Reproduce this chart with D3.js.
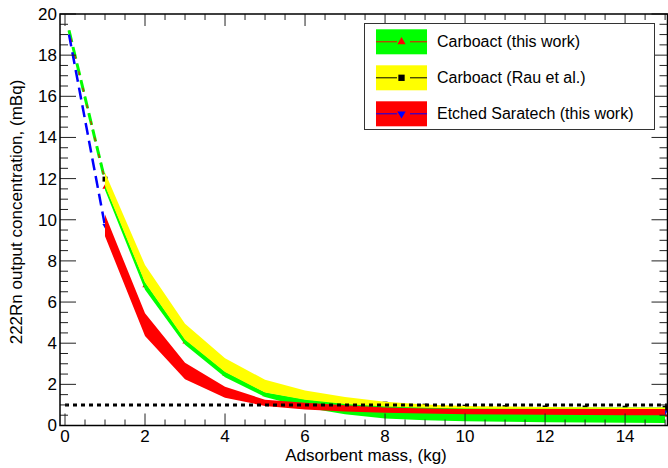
<!DOCTYPE html>
<html>
<head>
<meta charset="utf-8">
<script src="https://cdn.jsdelivr.net/npm/d3@7"></script>
<style>
  body { margin: 0; background: #fff; }
  svg { display: block; font-family: "Liberation Sans", Arial, sans-serif; }
</style>
</head>
<body>
<div id="chart"></div>
<script>
// adsorbent mass (kg) where the bands are defined
const mass = [1, 2, 3, 4, 5, 6, 7, 8, 9, 10, 11, 12, 13, 14, 15];
// Carboact (this work), green band
const carboLow = [11.45, 6.6, 3.92, 2.35, 1.38, 0.88, 0.55, 0.34, 0.26, 0.21, 0.18, 0.16, 0.14, 0.13, 0.12];
const carboHigh = [11.7, 6.98, 4.2, 2.62, 1.62, 1.28, 1.08, 0.97, 0.92, 0.89, 0.88, 0.87, 0.87, 0.87, 0.87];
// Carboact (Rau et al.), yellow band
const rauLow = [11.65, 6.95, 4.17, 2.6, 1.6, 1.25, 1.04, 0.92, 0.86, 0.83, 0.82, 0.81, 0.81, 0.8, 0.8];
const rauHigh = [12.3, 7.8, 4.95, 3.27, 2.22, 1.7, 1.38, 1.16, 1.02, 0.95, 0.92, 0.9, 0.89, 0.88, 0.88];
// Etched Saratech (this work), red band
const sarLow = [9.2, 4.35, 2.25, 1.35, 0.95, 0.78, 0.68, 0.62, 0.58, 0.55, 0.53, 0.52, 0.51, 0.5, 0.5];
const sarHigh = [10.25, 5.45, 3.05, 1.88, 1.25, 1.1, 0.98, 0.88, 0.83, 0.8, 0.8, 0.8, 0.8, 0.8, 0.8];
// dashed extrapolation towards zero mass
const extrapMass = [0.1, 1];
const carboExtrap = [19.2, 11.9];
const rauExtrap = [19.2, 12.0];
const sarExtrap = [19.0, 9.7];
// required output limit
const limit = 1.0;

const xMajor = [0, 2, 4, 6, 8, 10, 12, 14];
const yMajor = [0, 2, 4, 6, 8, 10, 12, 14, 16, 18, 20];

const legendLabels = ['Carboact (this work)', 'Carboact (Rau et al.)', 'Etched Saratech (this work)'];
const legendFills = ['#00ff00', '#ffff00', '#ff0000'];
const legendLines = ['#ff0000', '#000000', '#0000ff'];
const legendMarkers = ['triangle', 'square', 'down'];

const width = 668, height = 468;
const x = d3.scaleLinear().domain([-0.125, 15.06]).range([60, 667.5]);
const y = d3.scaleLinear().domain([0, 20]).range([425.5, 14]);

const svg = d3.select('#chart').append('svg')
  .attr('width', width)
  .attr('height', height);

// dashed extrapolation lines
const extrapLine = vals => d3.line()
  .x((d, i) => x(extrapMass[i]))
  .y(d => y(d))(vals);

svg.append('path').attr('d', extrapLine(rauExtrap))
  .attr('fill', 'none').attr('stroke', '#000').attr('stroke-width', 1)
  .attr('stroke-dasharray', '12,5');
svg.append('path').attr('d', extrapLine(carboExtrap))
  .attr('fill', 'none').attr('stroke', '#00ff00').attr('stroke-width', 3)
  .attr('stroke-dasharray', '12,5');
svg.append('path').attr('d', extrapLine(carboExtrap))
  .attr('fill', 'none').attr('stroke', '#ff0000').attr('stroke-width', 1)
  .attr('stroke-dasharray', '4,13').attr('stroke-dashoffset', -8);
svg.append('path').attr('d', extrapLine(sarExtrap))
  .attr('fill', 'none').attr('stroke', '#0000ff').attr('stroke-width', 2.5)
  .attr('stroke-dasharray', '12,6');

// markers at the band centres (mostly hidden by the bands)
const sym = {
  triangle: d3.symbol().type(d3.symbolTriangle).size(12),
  square: d3.symbol().type(d3.symbolSquare).size(25),
  down: d3.symbol().type(d3.symbolTriangle).size(12)
};
function markers(lo, hi, shape, color) {
  svg.append('g').selectAll('path')
    .data(mass)
    .join('path')
    .attr('d', sym[shape])
    .attr('fill', color)
    .attr('transform', (d, i) => `translate(${x(d)},${y((lo[i] + hi[i]) / 2)})` + (shape === 'down' ? ' rotate(180)' : ''));
}
markers(carboLow, carboHigh, 'triangle', '#ff0000');
markers(sarLow, sarHigh, 'down', '#0000ff');
markers(rauLow, rauHigh, 'square', '#000');

// the error bands
const band = (lo, hi) => d3.area()
  .x(d => x(d))
  .y0((d, i) => y(lo[i]))
  .y1((d, i) => y(hi[i]))(mass);

svg.append('path').attr('d', band(carboLow, carboHigh)).attr('fill', '#00ff00');
svg.append('path').attr('d', band(rauLow, rauHigh)).attr('fill', '#ffff00');
svg.append('path').attr('d', band(sarLow, sarHigh)).attr('fill', '#ff0000');

// dotted limit line
svg.append('line')
  .attr('x1', x(0)).attr('x2', 667.5)
  .attr('y1', y(limit)).attr('y2', y(limit))
  .attr('stroke', '#000').attr('stroke-width', 3)
  .attr('stroke-dasharray', '4,4');

// frame and ticks, ROOT style (ticks inside)
const x0 = x.range()[0], x1 = x.range()[1];
const y0 = y.range()[0], y1 = y.range()[1];
const xMinor = d3.range(0, 15.01, 0.5).filter(v => v % 2 !== 0);
const yMinor = d3.range(0, 20.01, 0.5).filter(v => v % 2 !== 0);

const ticks = svg.append('g').attr('stroke', '#222').attr('stroke-width', 1);
xMajor.forEach(v => {
  ticks.append('line').attr('x1', x(v)).attr('x2', x(v)).attr('y1', y0).attr('y2', y0 - 12);
  ticks.append('line').attr('x1', x(v)).attr('x2', x(v)).attr('y1', y1).attr('y2', y1 + 12);
});
xMinor.forEach(v => {
  ticks.append('line').attr('x1', x(v)).attr('x2', x(v)).attr('y1', y0).attr('y2', y0 - 6);
  ticks.append('line').attr('x1', x(v)).attr('x2', x(v)).attr('y1', y1).attr('y2', y1 + 6);
});
yMajor.forEach(v => {
  ticks.append('line').attr('x1', x0).attr('x2', x0 + 16).attr('y1', y(v)).attr('y2', y(v));
  ticks.append('line').attr('x1', x1).attr('x2', x1 - 16).attr('y1', y(v)).attr('y2', y(v));
});
yMinor.forEach(v => {
  ticks.append('line').attr('x1', x0).attr('x2', x0 + 8).attr('y1', y(v)).attr('y2', y(v));
  ticks.append('line').attr('x1', x1).attr('x2', x1 - 8).attr('y1', y(v)).attr('y2', y(v));
});

svg.append('rect')
  .attr('x', x0).attr('y', y1)
  .attr('width', x1 - x0).attr('height', y0 - y1)
  .attr('fill', 'none').attr('stroke', '#000').attr('stroke-width', 1.5);

// tick labels
svg.append('g').selectAll('text')
  .data(xMajor)
  .join('text')
  .attr('x', d => x(d))
  .attr('y', 442)
  .attr('text-anchor', 'middle')
  .attr('font-size', 17)
  .text(d => d);

svg.append('g').selectAll('text')
  .data(yMajor)
  .join('text')
  .attr('x', 57)
  .attr('y', d => y(d))
  .attr('dy', '0.35em')
  .attr('text-anchor', 'end')
  .attr('font-size', 17)
  .text(d => d);

// axis titles
svg.append('text')
  .attr('x', 366).attr('y', 461)
  .attr('text-anchor', 'middle')
  .attr('font-size', 17)
  .text('Adsorbent mass, (kg)');

svg.append('text')
  .attr('transform', 'translate(22, 212) rotate(-90)')
  .attr('text-anchor', 'middle')
  .attr('font-size', 17)
  .text('222Rn output concentration, (mBq)');

// legend
const legend = svg.append('g');
legend.append('rect')
  .attr('x', 364.5).attr('y', 23.5)
  .attr('width', 290).attr('height', 106)
  .attr('fill', '#fff').attr('stroke', '#333').attr('stroke-width', 1);

legendLabels.forEach((label, i) => {
  const cy = 41.8 + i * 36;
  const row = legend.append('g');
  row.append('rect')
    .attr('x', 376).attr('y', cy - 12.5)
    .attr('width', 51).attr('height', 25)
    .attr('fill', legendFills[i]);
  row.append('line')
    .attr('x1', 376).attr('x2', 397).attr('y1', cy).attr('y2', cy)
    .attr('stroke', legendLines[i]).attr('stroke-width', 1);
  row.append('line')
    .attr('x1', 410).attr('x2', 427).attr('y1', cy).attr('y2', cy)
    .attr('stroke', legendLines[i]).attr('stroke-width', 1);
  const shape = legendMarkers[i];
  row.append('path')
    .attr('d', shape === 'square'
      ? d3.symbol().type(d3.symbolSquare).size(40)()
      : d3.symbol().type(d3.symbolTriangle).size(30)())
    .attr('fill', legendLines[i])
    .attr('transform', `translate(401.5,${cy})` + (shape === 'down' ? ' rotate(180)' : ''));
  row.append('text')
    .attr('x', 437).attr('y', cy + 5.5)
    .attr('font-size', 16)
    .text(label);
});
</script>
</body>
</html>
